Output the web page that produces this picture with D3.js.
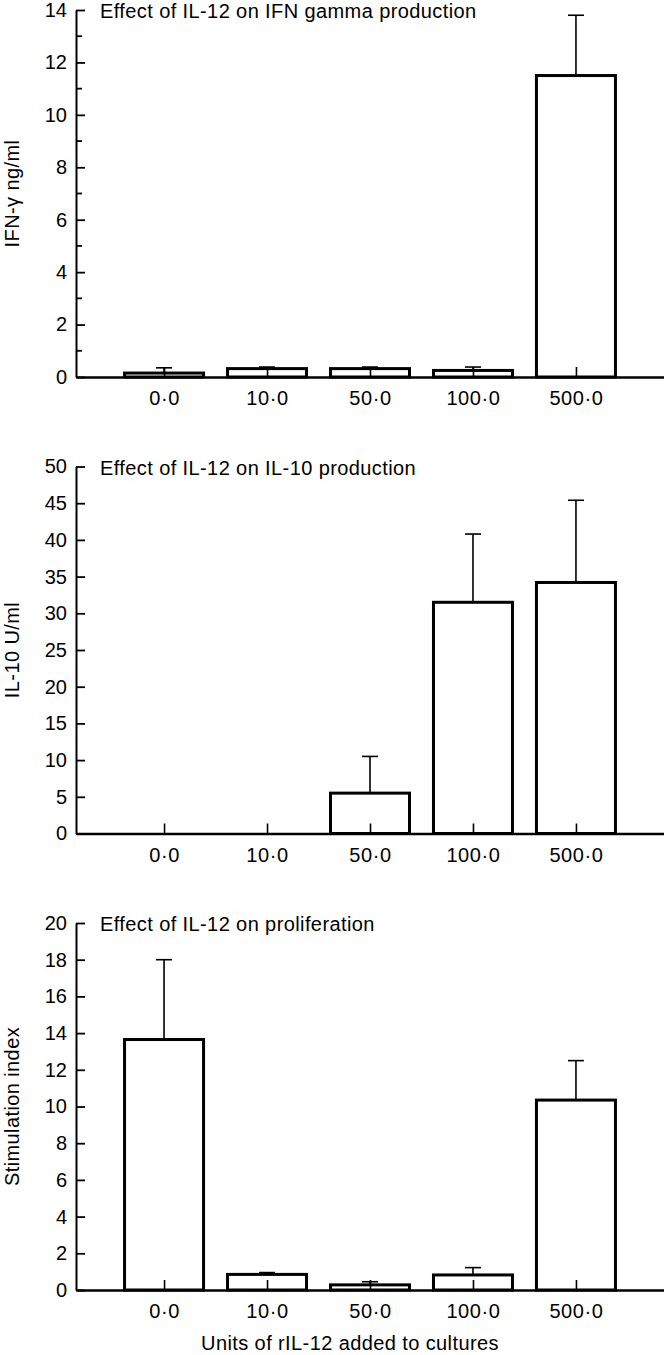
<!DOCTYPE html>
<html>
<head>
<meta charset="utf-8">
<script src="https://cdn.jsdelivr.net/npm/d3@7"></script>
<style>
  body { margin: 0; background: #fff; }
  svg { display: block; font-family: "Liberation Sans", Arial, sans-serif; }
  .axis path, .axis line { stroke: #000; }
  .axis text { font-size: 20px; fill: #000; font-family: "Liberation Sans", Arial, sans-serif; }
  .lbl { font-size: 20px; letter-spacing: 0.4px; }
</style>
</head>
<body>
<svg id="chart"></svg>
<script>
// doses of rIL-12 (shared x categories)
const doses = ["0·0", "10·0", "50·0", "100·0", "500·0"];

// panel 1: IFN-gamma
const ifnMean = [0.15, 0.32, 0.32, 0.25, 11.5];
const ifnErr  = [0.2, 0.06, 0.06, 0.13, 2.3];
const ifnTicks = [0, 2, 4, 6, 8, 10, 12, 14];
const ifnMinor = [1, 3, 5, 7, 9, 11, 13];

// panel 2: IL-10
const il10Mean = [0, 0, 5.5, 31.5, 34.2];
const il10Err  = [0, 0, 5.0, 9.3, 11.2];
const il10Ticks = [0, 5, 10, 15, 20, 25, 30, 35, 40, 45, 50];

// panel 3: proliferation
const siMean = [13.65, 0.85, 0.28, 0.82, 10.35];
const siErr  = [4.35, 0.1, 0.17, 0.4, 2.15];
const siTicks = [0, 2, 4, 6, 8, 10, 12, 14, 16, 18, 20];

const panels = [
  {title: "Effect of IL-12 on IFN gamma production", ylabel: "IFN-γ ng/ml", mean: ifnMean, err: ifnErr, ticks: ifnTicks, minor: ifnMinor},
  {title: "Effect of IL-12 on IL-10 production", ylabel: "IL-10 U/ml", mean: il10Mean, err: il10Err, ticks: il10Ticks, minor: []},
  {title: "Effect of IL-12 on proliferation", ylabel: "Stimulation index", mean: siMean, err: siErr, ticks: siTicks, minor: []}
];

const svgWidth = 664;
const svgHeight = 1355;
const left = 76;
const plotH = 367;
const firstTop = 10;
const pitch = 456.5;
const barW = 79;
const capW = 16;

const svg = d3.select("#chart")
  .attr("width", svgWidth)
  .attr("height", svgHeight);

const xScale = d3.scalePoint()
  .domain(doses)
  .range([left, svgWidth])
  .padding(0.855);

panels.forEach((p, i) => {
  const top = firstTop + i * pitch;
  const bottom = top + plotH;
  const maxV = p.ticks[p.ticks.length - 1];

  const yScale = d3.scaleLinear()
    .domain([0, maxV])
    .range([bottom, top]);

  const g = svg.append("g");

  // error bars (upper only)
  const eb = g.selectAll(".err")
    .data(doses.map((d, j) => ({d: d, m: p.mean[j], e: p.err[j]})).filter(o => o.e > 0))
    .enter().append("g").attr("class", "err");
  eb.append("line")
    .attr("x1", o => xScale(o.d)).attr("x2", o => xScale(o.d))
    .attr("y1", o => yScale(o.m)).attr("y2", o => yScale(o.m + o.e))
    .attr("stroke", "#000").attr("stroke-width", 1.6);
  eb.append("line")
    .attr("x1", o => xScale(o.d) - capW / 2).attr("x2", o => xScale(o.d) + capW / 2)
    .attr("y1", o => yScale(o.m + o.e)).attr("y2", o => yScale(o.m + o.e))
    .attr("stroke", "#000").attr("stroke-width", 1.6);

  // bars
  g.selectAll(".bar")
    .data(doses.map((d, j) => ({d: d, m: p.mean[j]})).filter(o => o.m > 0))
    .enter().append("rect")
    .attr("class", "bar")
    .attr("x", o => xScale(o.d) - barW / 2)
    .attr("y", o => yScale(o.m))
    .attr("width", barW)
    .attr("height", o => bottom - yScale(o.m))
    .attr("fill", "#fff")
    .attr("stroke", "#000")
    .attr("stroke-width", 3);

  // minor y ticks
  g.selectAll(".minor")
    .data(p.minor)
    .enter().append("line")
    .attr("x1", left).attr("x2", left + 6)
    .attr("y1", d => yScale(d)).attr("y2", d => yScale(d))
    .attr("stroke", "#000").attr("stroke-width", 1.8);

  // y axis
  const yAxis = d3.axisLeft(yScale)
    .tickValues(p.ticks)
    .tickFormat(d3.format("d"))
    .tickSizeInner(-9)
    .tickSizeOuter(0)
    .tickPadding(9);
  const ya = g.append("g").attr("class", "axis").attr("transform", `translate(${left},0)`).call(yAxis);
  ya.select(".domain").attr("stroke-width", 2);
  ya.selectAll(".tick line").attr("stroke-width", 1.8);

  // x axis
  const xAxis = d3.axisBottom(xScale)
    .tickSizeInner(-10)
    .tickSizeOuter(0)
    .tickPadding(14);
  const xa = g.append("g").attr("class", "axis").attr("transform", `translate(0,${bottom})`).call(xAxis);
  xa.select(".domain").attr("stroke-width", 2.4);
  xa.selectAll(".tick line").attr("stroke-width", 1.6);
  xa.selectAll(".tick text").attr("letter-spacing", "0.6px");

  // panel title
  g.append("text")
    .attr("class", "lbl")
    .attr("x", 100)
    .attr("y", top + 8)
    .text(p.title);

  // y label
  g.append("text")
    .attr("class", "lbl")
    .attr("transform", `translate(19,${(top + bottom) / 2}) rotate(-90)`)
    .attr("text-anchor", "middle")
    .text(p.ylabel);
});

svg.append("text")
  .attr("class", "lbl")
  .attr("x", 350)
  .attr("y", 1350)
  .attr("text-anchor", "middle")
  .text("Units of rIL-12 added to cultures");
</script>
</body>
</html>
